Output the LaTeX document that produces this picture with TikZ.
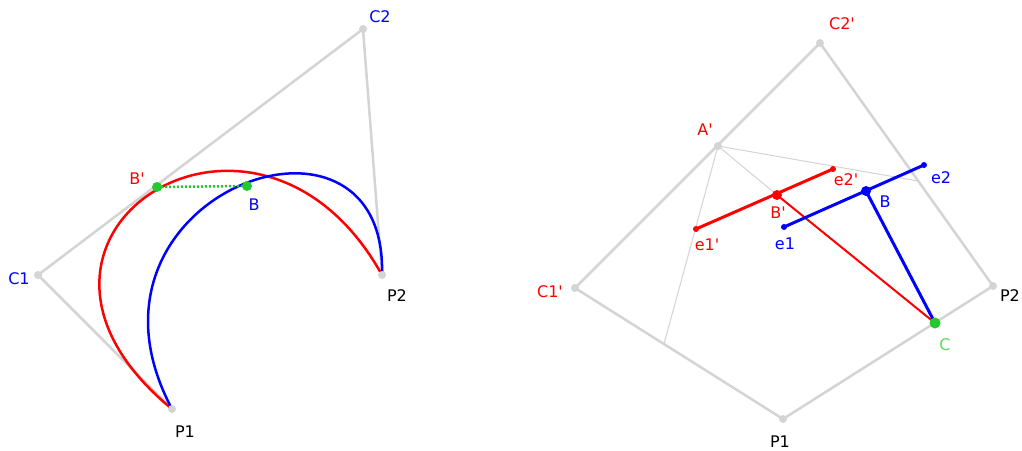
\documentclass[tikz,border=0pt]{standalone}
\usepackage{fontspec}
\setmainfont{DejaVu Sans}[Ligatures=TeXOff]
\definecolor{hullgray}{RGB}{212,212,212}
\definecolor{ptgreen}{RGB}{36,200,48}
\definecolor{lblgreen}{RGB}{90,220,90}
\tikzset{
  hull/.style={hullgray, line width=2.5pt},
  guide/.style={hullgray, line width=1pt},
  lbl/.style={inner sep=0pt, font=\fontsize{16}{19}\selectfont},
}
\newcommand{\pdot}[3]{\fill[#1] (#2) circle (#3);}

\begin{document}
\begin{tikzpicture}[x=1pt, y=-1pt]
\useasboundingbox (0,0) rectangle (1022,450);

% left: the two curves
\coordinate (C1) at (38,275);
\coordinate (C2) at (363,29);
\coordinate (P1) at (172,409);
\coordinate (P2) at (382,275);
\coordinate (Bp) at (157,187);
\coordinate (B) at (247,186);

\draw[hull] (P1) -- (C1) -- (C2) -- (P2);
\draw[red, line width=2.5pt] (P1) .. controls (-36,238) and (256,48) .. (P2);
\draw[blue, line width=2.5pt] (P1) .. controls (58,195) and (388,76) .. (P2);
\draw[ptgreen, line width=2.5pt, dash pattern=on 2pt off 2pt] (Bp) -- (B);
\foreach \p in {C1,C2,P1,P2} \pdot{hullgray}{\p}{4};
\pdot{ptgreen}{Bp}{5}
\pdot{ptgreen}{B}{5}

\node[lbl, blue] (lC2) at (380,17) {C2};
\node[lbl, blue] (lC1) at (19,279) {C1};
\node[lbl] (lP1) at (185,432) {P1};
\node[lbl] (lP2) at (397,296) {P2};
\node[lbl, red] (lBp) at (137,179) {B'};
\node[lbl, blue] (lB) at (254,205) {B};

% right: the offset construction
\coordinate (rC1) at (575,288);
\coordinate (rC2) at (820,43);
\coordinate (rP1) at (783,419);
\coordinate (rP2) at (993,286);
\coordinate (rA) at (718,146);
\coordinate (rF1) at (664,344);
\coordinate (rF2) at (918,181);
\coordinate (rBp) at (777,195);
\coordinate (rB) at (866,191);
\coordinate (rC) at (935,323);
\coordinate (re1p) at (696,229);
\coordinate (re2p) at (833,169);
\coordinate (re1) at (784,227);
\coordinate (re2) at (924,165);

\draw[hull] (rC1) -- (rC2) -- (rP2) -- (rP1) -- cycle;
\draw[guide] (rF1) -- (rA) -- (rF2);
\draw[guide] (rA) -- (rBp);
\draw[red, line width=3pt] (re1p) -- (re2p);
\draw[red, line width=2pt] (rBp) -- (rC);
\draw[blue, line width=3pt] (re1) -- (re2);
\draw[blue, line width=3pt] (rB) -- (rC);
\foreach \p in {rC1,rC2,rP1,rP2,rA} \pdot{hullgray}{\p}{4};
\pdot{red}{rBp}{5}
\pdot{blue}{rB}{5}
\pdot{ptgreen}{rC}{5.5}
\foreach \p in {re1p,re2p} \pdot{red}{\p}{3};
\foreach \p in {re1,re2} \pdot{blue}{\p}{3};

\node[lbl, red] (lrC2) at (842,24) {C2'};
\node[lbl, red] (lrA) at (705,130) {A'};
\node[lbl, red] (lrC1) at (550,292) {C1'};
\node[lbl] (lrP1) at (780,442) {P1};
\node[lbl] (lrP2) at (1010,296) {P2};
\node[lbl, lblgreen] (lrC) at (945,345) {C};
\node[lbl, red] (lrBp) at (778,213) {B'};
\node[lbl, blue] (lrB) at (885,202) {B};
\node[lbl, red] (lre2p) at (846,180) {e2'};
\node[lbl, blue] (lre2) at (941,178) {e2};
\node[lbl, blue] (lre1) at (785,244) {e1};
\node[lbl, red] (lre1p) at (707,245) {e1'};
\end{tikzpicture}
\end{document}
